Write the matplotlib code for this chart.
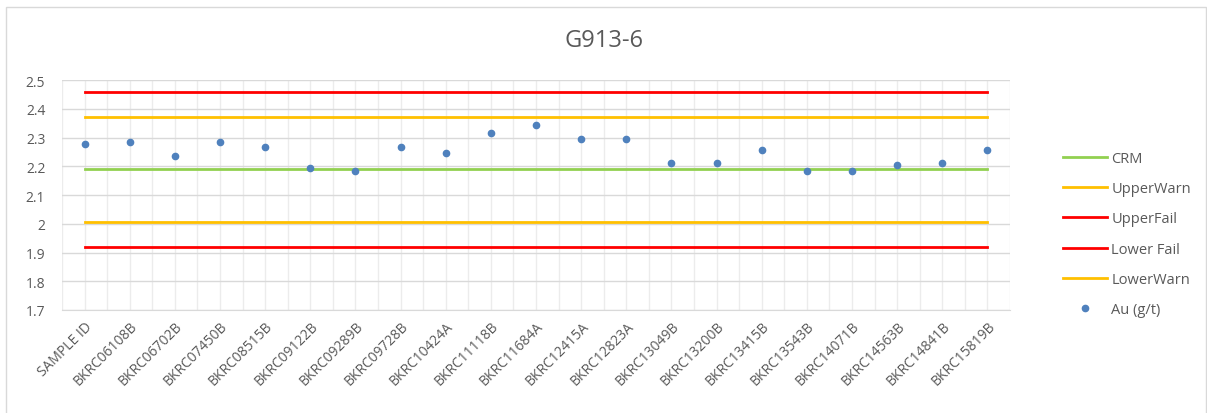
import numpy as np
import matplotlib.pyplot as plt
from matplotlib.patches import Rectangle

# sample ids and assay values
samples = ['SAMPLE ID', 'BKRC06108B', 'BKRC06702B', 'BKRC07450B', 'BKRC08515B',
           'BKRC09122B', 'BKRC09289B', 'BKRC09728B', 'BKRC10424A', 'BKRC11118B',
           'BKRC11684A', 'BKRC12415A', 'BKRC12823A', 'BKRC13049B', 'BKRC13200B',
           'BKRC13415B', 'BKRC13543B', 'BKRC14071B', 'BKRC14563B', 'BKRC14841B',
           'BKRC15819B']
au = [2.276, 2.286, 2.237, 2.286, 2.266, 2.194, 2.185, 2.266, 2.247, 2.315,
      2.343, 2.295, 2.295, 2.213, 2.213, 2.257, 2.185, 2.185, 2.203, 2.213,
      2.257]

# control limits
crm = 2.19
upper_warn = 2.37
upper_fail = 2.46
lower_fail = 1.92
lower_warn = 2.005

plt.rcParams['font.family'] = ['Open Sans', 'DejaVu Sans']
grey = '#595959'

fig = plt.figure(figsize=(12.07, 4.14), dpi=100)
ax = fig.add_axes([62 / 1207, 1 - 311 / 414, 948 / 1207, 230 / 414])

x = np.arange(len(samples))
n = len(samples)

ax.plot(x, [crm] * n, color='#92d050', lw=2, label='CRM', zorder=3)
ax.plot(x, [upper_warn] * n, color='#ffc000', lw=2, label='UpperWarn', zorder=3)
ax.plot(x, [upper_fail] * n, color='#ff0000', lw=2, label='UpperFail', zorder=3)
ax.plot(x, [lower_fail] * n, color='#ff0000', lw=2, label='Lower Fail', zorder=3)
ax.plot(x, [lower_warn] * n, color='#ffc000', lw=2, label='LowerWarn', zorder=3)
ax.plot(x, au, 'o', color='#4f81bd', ms=4.5, label='Au (g/t)', zorder=4)

ax.set_xlim(-0.5, n - 0.5)
ax.set_ylim(1.7, 2.5)
ax.set_yticks(np.arange(1.7, 2.51, 0.1))
ax.set_yticklabels(['1.7', '1.8', '1.9', '2', '2.1', '2.2', '2.3', '2.4', '2.5'])
ax.set_xticks(x)
ax.set_xticklabels(samples, rotation=45, ha='right', rotation_mode='anchor')
ax.set_xticks(np.arange(-0.5, n, 1.0), minor=True)

ax.grid(axis='y', color='#d9d9d9', lw=1)
ax.grid(axis='x', which='both', color='#ececec', lw=1)
ax.set_axisbelow(True)
ax.tick_params(axis='both', which='both', length=0, colors=grey, labelsize=10)
ax.tick_params(axis='x', pad=6)
ax.tick_params(axis='y', pad=12)
for s in ['top', 'right', 'left']:
    ax.spines[s].set_visible(False)
ax.spines['bottom'].set_color('#d9d9d9')

fig.text(0.5, 1 - 41 / 414, 'G913-6', ha='center', va='center', fontsize=17, color=grey)

fig.legend(loc='center left', bbox_to_anchor=(1050 / 1207, 1 - 235 / 414),
           frameon=False, fontsize=10.5, labelcolor=grey, labelspacing=1.05,
           handlelength=3.0, handletextpad=0.3)

fig.add_artist(Rectangle((6 / 1207, -0.01), 1200 / 1207, 1 - 8 / 414 + 0.01,
                         transform=fig.transFigure, fill=False,
                         edgecolor='#d9d9d9', lw=1))

fig.savefig('out.png', dpi=100)
